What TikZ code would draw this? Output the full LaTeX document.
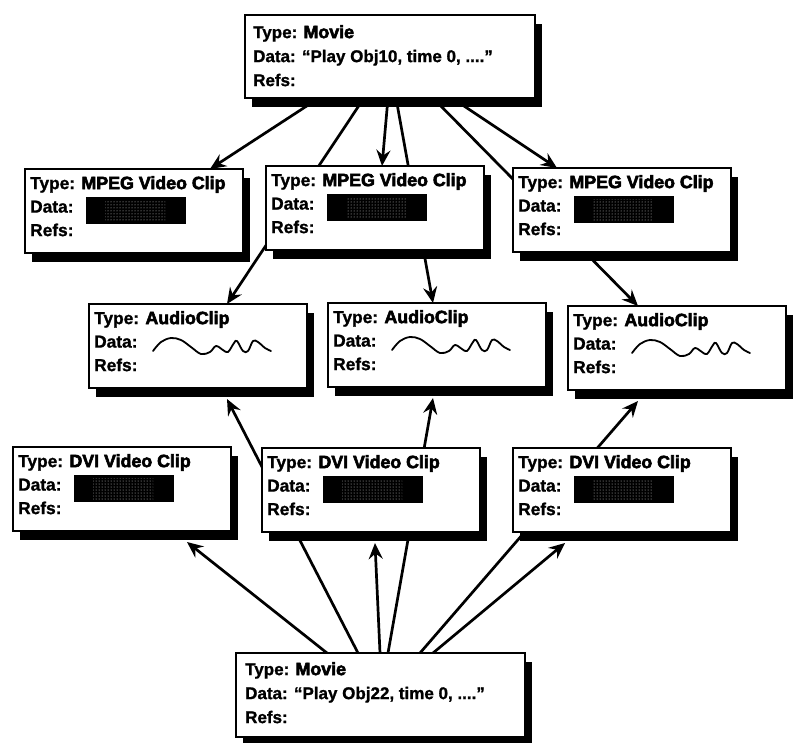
\documentclass[tikz,border=0pt]{standalone}
\usepackage{fontspec}
\setmainfont{Liberation Sans}[BoldFeatures={FakeBold=1.2}]
% field values are set in an emboldened bold face
\font\heavyraw="Liberation Sans Bold:embolden=3.2" at 17.8pt
\usetikzlibrary{arrows.meta,shadows,patterns}
\pgfdeclarelayer{bg}
\pgfsetlayers{bg,main}

\newcommand\heavytext[1]{{\heavyraw #1}}

\tikzset{
  objbox/.style={draw=black, line width=2.4pt, fill=white, inner sep=0pt,
    outer sep=0pt, anchor=north west,
    general shadow={shadow xshift=7pt, shadow yshift=-9pt, fill=black}},
  clipbox/.style={objbox, minimum width=218pt, minimum height=84pt},
  moviebox/.style={objbox, minimum width=290pt, minimum height=84pt},
  info/.style={inner sep=0pt, anchor=north west, align=left,
    font=\fontsize{17.3}{23.5}\selectfont\bfseries},
  movieinfo/.style={info, font=\fontsize{17}{24}\selectfont\bfseries},
  link/.style={line width=2.7pt},
  ref/.style={link, -{Stealth[length=16pt,width=14pt,inset=5.5pt]}},
  datablk/.style={fill=black},
  speckle/.style={pattern=dots, pattern color=gray!40},
  wave/.style={line width=1.8pt, line join=round, line cap=round},
}

% an object record: name, x, y, type
\newcommand\clipobj[4]{%
  \node[clipbox] (#1) at (#2,#3) {};
  \node[info] (#1t) at ([shift={(5,7)}]#1.north west)
    {Type: \heavytext{#4}\\ Data:\\ Refs:};
}
% video data: a dark block
\newcommand\videodata[2]{%
  \fill[datablk] (#1+61,#2+28) rectangle (#1+161,#2+55);
  \fill[speckle] (#1+80,#2+31) rectangle (#1+140,#2+52);
}
% audio data: a wave
\newcommand\audiodata[2]{%
  \begin{scope}[shift={(#1+64,#2+44)}]
    \draw[wave] plot[smooth, tension=0.6] coordinates {
      (0,3) (8,-6) (18,-10) (28,-8) (38,-1) (48,6) (57,4) (63,-2)
      (70,2) (75,4) (81,-5) (84,-7) (90,3) (95,3) (100,-7) (105,-6)
      (112,0) (118,3)};
  \end{scope}
}

\begin{document}
\begin{tikzpicture}[x=1pt,y=-1pt]
\useasboundingbox (0,0) rectangle (794,742);

% movies
\node[moviebox, minimum height=83pt] (m0) at (245,15) {};
\node[movieinfo] (m0t) at ([shift={(8,10)}]m0.north west)
  {Type: \heavytext{Movie}\\ Data: “Play Obj10, time 0, ....”\\ Refs:};

\node[moviebox, minimum width=289pt] (m1) at (236,653) {};
\node[movieinfo] (m1t) at ([shift={(9,9)}]m1.north west)
  {Type: \heavytext{Movie}\\ Data: “Play Obj22, time 0, ....”\\ Refs:};

% MPEG video clips
\clipobj{c1}{25}{169}{MPEG Video Clip}
\clipobj{c2}{266}{166}{MPEG Video Clip}
\clipobj{c3}{513}{168}{MPEG Video Clip}
\videodata{25}{169}
\videodata{266}{166}
\videodata{513}{168}

% audio clips
\clipobj{a1}{89}{304}{AudioClip}
\clipobj{a2}{328}{303}{AudioClip}
\clipobj{a3}{568}{306}{AudioClip}
\audiodata{89}{304}
\audiodata{328}{303}
\audiodata{568}{306}

% DVI video clips
\clipobj{d1}{13}{447}{DVI Video Clip}
\clipobj{d2}{262}{448}{DVI Video Clip}
\clipobj{d3}{513}{448}{DVI Video Clip}
\videodata{13}{447}
\videodata{262}{448}
\videodata{513}{448}

% references, drawn beneath the records
\begin{pgfonlayer}{bg}
  \draw[ref] ([xshift=74pt]m0.south west)  -- ([xshift=185pt]c1.north west);
  \draw[ref] ([xshift=119pt]m0.south west) -- ([xshift=138pt]a1.north west);
  \draw[ref] ([xshift=143pt]m0.south west) -- ([xshift=116pt]c2.north west);
  \draw[ref] ([xshift=151pt]m0.south west) -- ([xshift=105pt]a2.north west);
  \draw[ref] ([xshift=188pt]m0.south west) -- ([xshift=70pt]a3.north west);
  \draw[ref] ([xshift=207pt]m0.south west) -- ([xshift=44pt]c3.north west);

  \draw[ref] ([xshift=91pt]m1.north west)  -- ([shift={(174,11)}]d1.south west);
  \draw[ref] ([xshift=122pt]m1.north west) -- ([shift={(138,11)}]a1.south west);
  \draw[ref] ([xshift=144pt]m1.north west) -- ([shift={(113,11)}]d2.south west);
  \draw[ref] ([xshift=152pt]m1.north west) -- ([shift={(105,11)}]a2.south west);
  \draw[ref] ([xshift=184pt]m1.north west) -- ([shift={(70,11)}]a3.south west);
  \draw[ref] ([xshift=197pt]m1.north west) -- ([shift={(52,11)}]d3.south west);
\end{pgfonlayer}
\end{tikzpicture}
\end{document}
